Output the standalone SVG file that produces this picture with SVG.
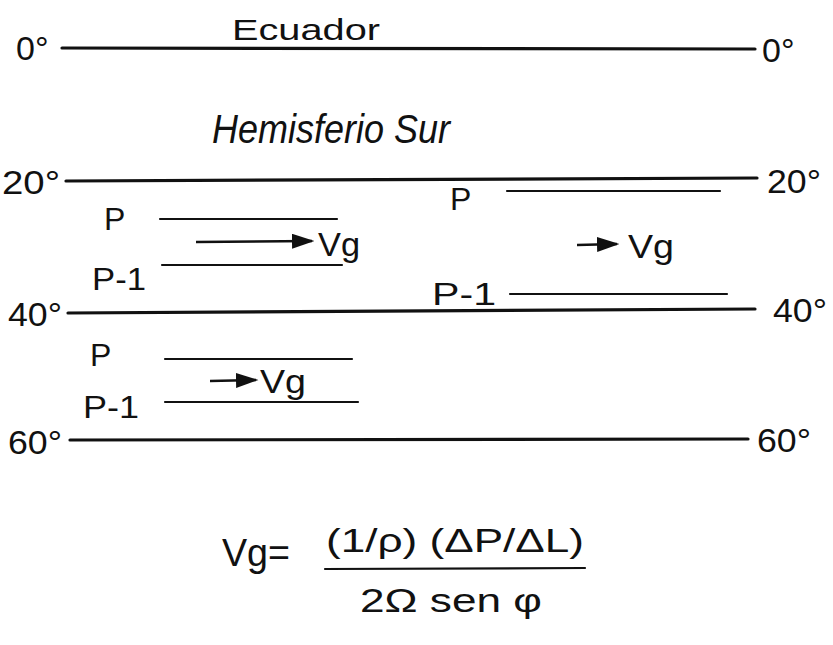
<svg xmlns="http://www.w3.org/2000/svg" width="833" height="645" viewBox="0 0 833 645">
<style>
text{font-family:"Liberation Sans",Arial,sans-serif;fill:#111}
.lbl{font-size:34px}
.p{font-size:32px}
.vgt{font-size:34px}
.lat{stroke:#111;stroke-width:3.2;stroke-linecap:round}
.iso{stroke:#111;stroke-width:2.2;stroke-linecap:round}
.vg{stroke:#111;stroke-width:2.5;fill:none}
</style>
<defs>
<marker id="ah" markerWidth="9" markerHeight="6" refX="8" refY="3" orient="auto" markerUnits="strokeWidth">
<path d="M0,0 L9,3 L0,6 z" fill="#111"/>
</marker>
</defs>
<rect width="833" height="645" fill="#fff"/>
<g id="connectors">
<line class="lat" x1="62" y1="48" x2="755" y2="49"/>
<line class="lat" x1="66" y1="181" x2="757" y2="178"/>
<line class="lat" x1="68" y1="313" x2="755" y2="309"/>
<line class="lat" x1="70" y1="440" x2="748" y2="439"/>
<line class="iso" x1="160" y1="219" x2="337" y2="219"/>
<line class="iso" x1="162" y1="265" x2="342" y2="265"/>
<line class="iso" x1="507" y1="191" x2="720" y2="191"/>
<line class="iso" x1="510" y1="294" x2="727" y2="294"/>
<line class="iso" x1="165" y1="359" x2="352" y2="359"/>
<line class="iso" x1="165" y1="402" x2="358" y2="402"/>
<line class="vg" x1="196" y1="242" x2="312" y2="241" marker-end="url(#ah)"/>
<line class="vg" x1="577" y1="245" x2="617" y2="244" marker-end="url(#ah)"/>
<line class="vg" x1="210" y1="381" x2="256" y2="380" marker-end="url(#ah)"/>
</g>
<g id="equator">
<text class="lbl" x="16" y="60">0°</text>
<text class="lbl" x="762" y="62">0°</text>
<text x="232" y="40" font-size="30" textLength="148" lengthAdjust="spacingAndGlyphs">Ecuador</text>
</g>
<g id="hemisferio">
<text x="212" y="143" font-size="40" font-style="italic" textLength="238" lengthAdjust="spacingAndGlyphs">Hemisferio Sur</text>
</g>
<g id="lat20">
<text class="lbl" x="2" y="194" textLength="58" lengthAdjust="spacingAndGlyphs">20°</text>
<text class="lbl" x="767" y="193" textLength="54" lengthAdjust="spacingAndGlyphs">20°</text>
</g>
<g id="lat40">
<text class="lbl" x="8" y="326" textLength="54" lengthAdjust="spacingAndGlyphs">40°</text>
<text class="lbl" x="773" y="322" textLength="54" lengthAdjust="spacingAndGlyphs">40°</text>
</g>
<g id="lat60">
<text class="lbl" x="8" y="454" textLength="54" lengthAdjust="spacingAndGlyphs">60°</text>
<text class="lbl" x="757" y="452" textLength="54" lengthAdjust="spacingAndGlyphs">60°</text>
</g>
<g id="block-left-upper">
<text class="p" x="104" y="230">P</text>
<text class="p" x="92" y="290" textLength="54" lengthAdjust="spacingAndGlyphs">P-1</text>
<text class="vgt" x="318" y="256" textLength="42" lengthAdjust="spacingAndGlyphs">Vg</text>
</g>
<g id="block-right">
<text class="p" x="450" y="210">P</text>
<text class="p" x="432" y="305" textLength="64" lengthAdjust="spacingAndGlyphs">P-1</text>
<text class="vgt" x="628" y="258" textLength="46" lengthAdjust="spacingAndGlyphs">Vg</text>
</g>
<g id="block-left-lower">
<text class="p" x="90" y="366">P</text>
<text class="p" x="83" y="418" textLength="56" lengthAdjust="spacingAndGlyphs">P-1</text>
<text class="vgt" x="260" y="393" textLength="46" lengthAdjust="spacingAndGlyphs">Vg</text>
</g>
<g id="formula">
<text x="222" y="566" font-size="38" textLength="68" lengthAdjust="spacingAndGlyphs">Vg=</text>
<text x="326" y="552" font-size="34" textLength="258" lengthAdjust="spacingAndGlyphs">(1/ρ) (ΔP/ΔL)</text>
<line class="iso" x1="325" y1="569" x2="585" y2="568"/>
<text x="360" y="612" font-size="34" textLength="182" lengthAdjust="spacingAndGlyphs">2Ω sen φ</text>
</g>
</svg>
